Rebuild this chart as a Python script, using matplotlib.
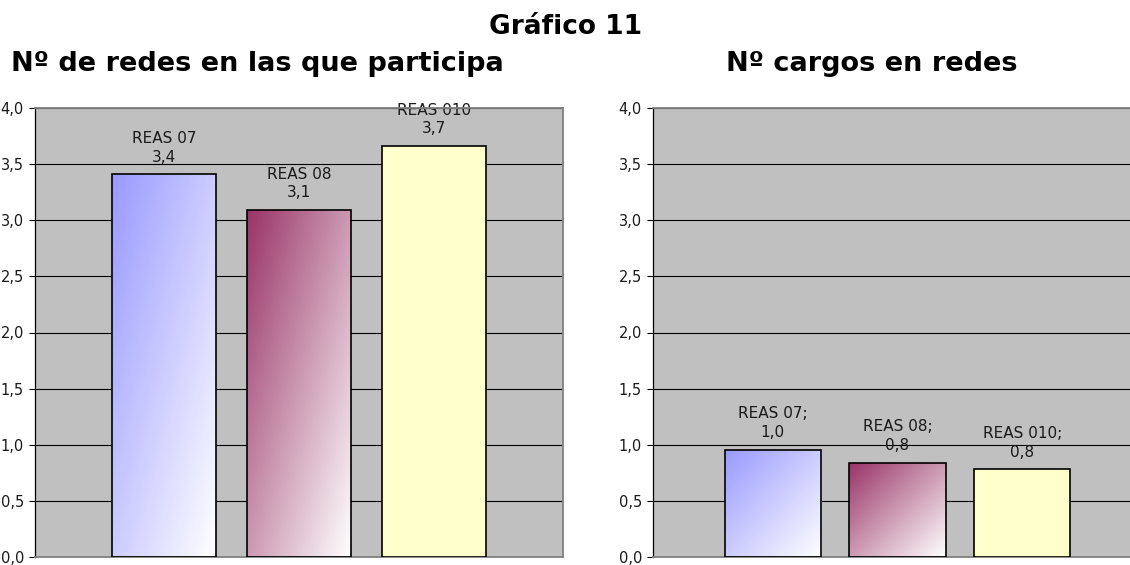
"""Gráfico 11: redes y cargos en redes (REAS 07 / 08 / 010)."""

import matplotlib

matplotlib.use("Agg")
import matplotlib.pyplot as plt
import numpy as np
from matplotlib.colors import to_rgb

categories = ["REAS 07", "REAS 08", "REAS 010"]
redes_values = [3.41, 3.09, 3.66]
cargos_values = [0.955, 0.84, 0.78]
yticks = [0.0, 0.5, 1.0, 1.5, 2.0, 2.5, 3.0, 3.5, 4.0]

# top-left colour of each bar; the flag says whether it fades to white
bar_colors = ["#9999FF", "#993366", "#FFFFCC"]
bar_gradient = [True, True, False]

PLOT_BG = "#C0C0C0"
BORDER = "#808080"


def fmt(v):
    return f"{v:.1f}".replace(".", ",")


def gradient_fill(ax, patch, color):
    """Diagonal gradient: colour in the top-left corner, white bottom-right."""
    x, y = patch.get_x(), patch.get_y()
    w, h = patch.get_width(), patch.get_height()
    n = 200
    u = np.linspace(0, 1, n)[None, :]
    r = np.linspace(0, 1, n)[:, None]
    t = np.clip((u + r) / 2.0, 0, 1)[..., None]
    c0 = np.array(to_rgb(color))[None, None, :]
    img = c0 + (1.0 - c0) * t
    im = ax.imshow(img, extent=(x, x + w, y, y + h), origin="upper",
                   aspect="auto", zorder=2, interpolation="bilinear")
    im.set_clip_path(patch)


def draw_panel(ax, values, sep):
    xs = np.arange(len(values))
    bars = ax.bar(xs, values, width=0.77, facecolor="none",
                  edgecolor="black", linewidth=1.2, zorder=3)
    for bar, col, grad in zip(bars, bar_colors, bar_gradient):
        if grad:
            gradient_fill(ax, bar, col)
        else:
            bar.set_facecolor(col)
    for x, v, cat in zip(xs, values, categories):
        ax.annotate(f"{cat}{sep}\n{fmt(v)}", (x, v), xytext=(0, 7),
                    textcoords="offset points", ha="center", va="bottom",
                    fontsize=11, color="#1a1a1a", linespacing=1.3,
                    annotation_clip=False, zorder=1)

    ax.set_xlim(-0.96, 2.96)
    ax.set_ylim(0, 4)
    ax.set_facecolor(PLOT_BG)
    ax.set_yticks(yticks)
    ax.set_yticklabels([fmt(t) for t in yticks], fontsize=10.5, color="#1a1a1a")
    ax.set_xticks([])
    ax.tick_params(axis="y", length=4, width=0.8, pad=4, direction="out")
    ax.yaxis.grid(True, color="black", linewidth=0.8)
    ax.set_axisbelow(True)
    ax.spines["left"].set_color("black")
    ax.spines["left"].set_linewidth(0.9)
    for side in ("top", "right", "bottom"):
        ax.spines[side].set_color(BORDER)
        ax.spines[side].set_linewidth(1.3)


fig = plt.figure(figsize=(11.3, 5.65), dpi=100)
ax1 = fig.add_axes([35 / 1130, 8 / 565, 528 / 1130, 449 / 565])
ax2 = fig.add_axes([653 / 1130, 8 / 565, 489 / 1130, 449 / 565])

draw_panel(ax1, redes_values, "")
draw_panel(ax2, cargos_values, ";")

fig.text(566 / 1130, 1 - 27 / 565, "Gráfico 11", ha="center", va="center",
         fontsize=19, fontweight="bold")
fig.text(257 / 1130, 1 - 64 / 565, "Nº de redes en las que participa",
         ha="center", va="center", fontsize=19.5, fontweight="bold")
fig.text(872 / 1130, 1 - 64 / 565, "Nº cargos en redes",
         ha="center", va="center", fontsize=19.5, fontweight="bold")

fig.savefig("out.png", dpi=100)
plt.close(fig)
